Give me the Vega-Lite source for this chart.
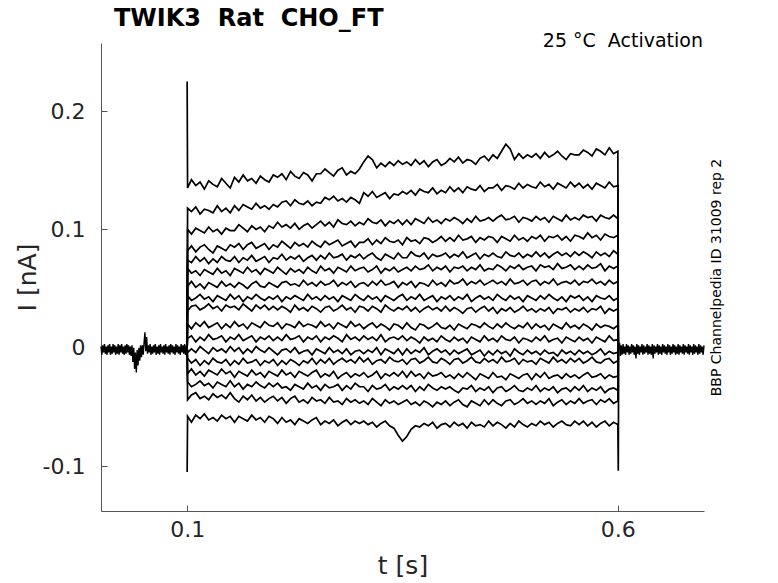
{
"$schema":"https://vega.github.io/schema/vega-lite/v6.json",
"width":603,"height":468,
"autosize":{"type":"none"},
"padding":{"left":101,"top":43,"right":74,"bottom":72},
"background":"white",
"config":{"view":{"stroke":null},"font":"DejaVu Sans",
 "axisX":{"grid":false,"tickSize":-6,"labelPadding":14,"labelFlush":false,"labelFontSize":22,"titleFontSize":25,"titleFontWeight":"normal","titlePadding":13,"labelColor":"#262626","titleColor":"#262626","domainColor":"#555555","tickColor":"#555555","labelFont":"DejaVu Sans","titleFont":"DejaVu Sans"}},
"title":{"text":"TWIK3\u00a0 Rat\u00a0 CHO_FT","anchor":"start","frame":"group","dx":13,"dy":9,"offset":10,"fontSize":24,"fontWeight":"bold","font":"DejaVu Sans","color":"black"},
"datasets":{
"base":[
{"t":0,"i":0.001,"g":1},{"t":0.001,"i":-0.006,"g":1},{"t":0.002,"i":0.002,"g":1},{"t":0.003,"i":-0.004,"g":1},{"t":0.004,"i":0.003,"g":1},{"t":0.005,"i":-0.005,"g":1},{"t":0.006,"i":0.001,"g":1},{"t":0.007,"i":-0.006,"g":1},{"t":0.008,"i":0.002,"g":1},{"t":0.009,"i":-0.004,"g":1},{"t":0.01,"i":0.003,"g":1},{"t":0.011,"i":-0.006,"g":1},{"t":0.012,"i":0.001,"g":1},{"t":0.013,"i":-0.005,"g":1},{"t":0.014,"i":0.003,"g":1},{"t":0.015,"i":-0.004,"g":1},{"t":0.016,"i":0.002,"g":1},{"t":0.017,"i":-0.006,"g":1},{"t":0.018,"i":0.001,"g":1},{"t":0.019,"i":-0.005,"g":1},{"t":0.02,"i":0.003,"g":1},{"t":0.021,"i":-0.006,"g":1},{"t":0.022,"i":0.002,"g":1},{"t":0.023,"i":-0.004,"g":1},{"t":0.024,"i":0.003,"g":1},{"t":0.025,"i":-0.005,"g":1},{"t":0.026,"i":0.001,"g":1},{"t":0.027,"i":-0.006,"g":1},{"t":0.028,"i":0.002,"g":1},{"t":0.029,"i":-0.005,"g":1},{"t":0.03,"i":0.003,"g":1},{"t":0.031,"i":-0.004,"g":1},{"t":0.032,"i":0.002,"g":1},{"t":0.033,"i":-0.006,"g":1},{"t":0.034,"i":0.001,"g":1},{"t":0.035,"i":-0.007,"g":1},{"t":0.036,"i":0.002,"g":1},{"t":0.037,"i":-0.012,"g":1},{"t":0.038,"i":0,"g":1},{"t":0.039,"i":-0.018,"g":1},{"t":0.04,"i":-0.004,"g":1},{"t":0.041,"i":-0.021,"g":1},{"t":0.042,"i":-0.002,"g":1},{"t":0.043,"i":-0.015,"g":1},{"t":0.044,"i":0,"g":1},{"t":0.045,"i":-0.011,"g":1},{"t":0.046,"i":0.002,"g":1},{"t":0.047,"i":-0.008,"g":1},{"t":0.048,"i":0.002,"g":1},{"t":0.049,"i":-0.006,"g":1},{"t":0.05,"i":0.004,"g":1},{"t":0.051,"i":0.013,"g":1},{"t":0.052,"i":-0.003,"g":1},{"t":0.053,"i":0.009,"g":1},{"t":0.054,"i":-0.005,"g":1},{"t":0.055,"i":0.002,"g":1},{"t":0.056,"i":-0.004,"g":1},{"t":0.057,"i":0.003,"g":1},{"t":0.058,"i":-0.006,"g":1},{"t":0.059,"i":0.001,"g":1},{"t":0.06,"i":-0.005,"g":1},{"t":0.061,"i":0.002,"g":1},{"t":0.062,"i":-0.004,"g":1},{"t":0.063,"i":0.003,"g":1},{"t":0.064,"i":-0.006,"g":1},{"t":0.065,"i":0.001,"g":1},{"t":0.066,"i":-0.005,"g":1},{"t":0.067,"i":0.002,"g":1},{"t":0.068,"i":-0.006,"g":1},{"t":0.069,"i":0.003,"g":1},{"t":0.07,"i":-0.004,"g":1},{"t":0.071,"i":0.001,"g":1},{"t":0.072,"i":-0.005,"g":1},{"t":0.073,"i":0.002,"g":1},{"t":0.074,"i":-0.006,"g":1},{"t":0.075,"i":0.003,"g":1},{"t":0.076,"i":-0.004,"g":1},{"t":0.077,"i":0.001,"g":1},{"t":0.078,"i":-0.005,"g":1},{"t":0.079,"i":0.002,"g":1},{"t":0.08,"i":-0.006,"g":1},{"t":0.081,"i":0.003,"g":1},{"t":0.082,"i":-0.004,"g":1},{"t":0.083,"i":0.002,"g":1},{"t":0.084,"i":-0.005,"g":1},{"t":0.085,"i":0.001,"g":1},{"t":0.086,"i":-0.006,"g":1},{"t":0.087,"i":0.003,"g":1},{"t":0.088,"i":-0.004,"g":1},{"t":0.089,"i":0.002,"g":1},{"t":0.09,"i":-0.005,"g":1},{"t":0.091,"i":0.001,"g":1},{"t":0.092,"i":-0.006,"g":1},{"t":0.093,"i":0.003,"g":1},{"t":0.094,"i":-0.004,"g":1},{"t":0.095,"i":0.002,"g":1},{"t":0.096,"i":-0.005,"g":1},{"t":0.097,"i":0.003,"g":1},{"t":0.098,"i":-0.006,"g":1},{"t":0.099,"i":0.001,"g":1},{"t":0.1,"i":0,"g":1},
{"t":0.601,"i":0,"g":2},{"t":0.602,"i":0.004,"g":2},{"t":0.603,"i":-0.007,"g":2},{"t":0.604,"i":0.002,"g":2},{"t":0.605,"i":-0.006,"g":2},{"t":0.606,"i":0.003,"g":2},{"t":0.607,"i":-0.005,"g":2},{"t":0.608,"i":0.001,"g":2},{"t":0.609,"i":-0.006,"g":2},{"t":0.61,"i":0.003,"g":2},{"t":0.611,"i":-0.004,"g":2},{"t":0.612,"i":0.002,"g":2},{"t":0.613,"i":-0.006,"g":2},{"t":0.614,"i":0.001,"g":2},{"t":0.615,"i":-0.005,"g":2},{"t":0.616,"i":0.003,"g":2},{"t":0.617,"i":-0.004,"g":2},{"t":0.618,"i":0.002,"g":2},{"t":0.619,"i":-0.006,"g":2},{"t":0.62,"i":0.001,"g":2},{"t":0.621,"i":-0.009,"g":2},{"t":0.622,"i":0.003,"g":2},{"t":0.623,"i":-0.005,"g":2},{"t":0.624,"i":0.002,"g":2},{"t":0.625,"i":-0.006,"g":2},{"t":0.626,"i":0.001,"g":2},{"t":0.627,"i":-0.004,"g":2},{"t":0.628,"i":0.003,"g":2},{"t":0.629,"i":-0.006,"g":2},{"t":0.63,"i":0.002,"g":2},{"t":0.631,"i":-0.005,"g":2},{"t":0.632,"i":0.001,"g":2},{"t":0.633,"i":-0.004,"g":2},{"t":0.634,"i":0.003,"g":2},{"t":0.635,"i":-0.006,"g":2},{"t":0.636,"i":0.002,"g":2},{"t":0.637,"i":-0.005,"g":2},{"t":0.638,"i":0.001,"g":2},{"t":0.639,"i":-0.006,"g":2},{"t":0.64,"i":0.003,"g":2},{"t":0.641,"i":-0.009,"g":2},{"t":0.642,"i":0.002,"g":2},{"t":0.643,"i":-0.005,"g":2},{"t":0.644,"i":0.001,"g":2},{"t":0.645,"i":-0.004,"g":2},{"t":0.646,"i":0.003,"g":2},{"t":0.647,"i":-0.006,"g":2},{"t":0.648,"i":0.002,"g":2},{"t":0.649,"i":-0.005,"g":2},{"t":0.65,"i":0.001,"g":2},{"t":0.651,"i":-0.006,"g":2},{"t":0.652,"i":0.003,"g":2},{"t":0.653,"i":-0.004,"g":2},{"t":0.654,"i":0.002,"g":2},{"t":0.655,"i":-0.005,"g":2},{"t":0.656,"i":0.001,"g":2},{"t":0.657,"i":-0.006,"g":2},{"t":0.658,"i":0.003,"g":2},{"t":0.659,"i":-0.004,"g":2},{"t":0.66,"i":0.002,"g":2},{"t":0.661,"i":-0.006,"g":2},{"t":0.662,"i":0.001,"g":2},{"t":0.663,"i":-0.005,"g":2},{"t":0.664,"i":0.003,"g":2},{"t":0.665,"i":-0.004,"g":2},{"t":0.666,"i":0.002,"g":2},{"t":0.667,"i":-0.006,"g":2},{"t":0.668,"i":0.001,"g":2},{"t":0.669,"i":-0.005,"g":2},{"t":0.67,"i":0.003,"g":2},{"t":0.671,"i":-0.006,"g":2},{"t":0.672,"i":0.002,"g":2},{"t":0.673,"i":-0.004,"g":2},{"t":0.674,"i":0.001,"g":2},{"t":0.675,"i":-0.005,"g":2},{"t":0.676,"i":0.003,"g":2},{"t":0.677,"i":-0.006,"g":2},{"t":0.678,"i":0.002,"g":2},{"t":0.679,"i":-0.004,"g":2},{"t":0.68,"i":0.001,"g":2},{"t":0.681,"i":-0.005,"g":2},{"t":0.682,"i":0.003,"g":2},{"t":0.683,"i":-0.006,"g":2},{"t":0.684,"i":0.002,"g":2},{"t":0.685,"i":-0.004,"g":2},{"t":0.686,"i":0.001,"g":2},{"t":0.687,"i":-0.006,"g":2},{"t":0.688,"i":0.003,"g":2},{"t":0.689,"i":-0.005,"g":2},{"t":0.69,"i":0.002,"g":2},{"t":0.691,"i":-0.004,"g":2},{"t":0.692,"i":0.001,"g":2},{"t":0.693,"i":-0.006,"g":2},{"t":0.694,"i":0.003,"g":2},{"t":0.695,"i":-0.005,"g":2},{"t":0.696,"i":0.002,"g":2},{"t":0.697,"i":-0.004,"g":2},{"t":0.698,"i":0.001,"g":2},{"t":0.699,"i":-0.006,"g":2},{"t":0.7,"i":0.002,"g":2}
],
"traces":[
{"t":0.1,"a":0.225,"b":0,"c":0,"d":0,"e":0,"f":0,"g":0,"h":0,"i":0,"j":0,"k":0,"l":0,"m":0,"n":0,"o":0,"p":0,"q":-0.105},
{"t":0.1005,"a":0.135,"b":0.118,"c":0.1,"d":0.082,"e":0.074,"f":0.067,"g":0.052,"h":0.044,"i":0.031,"j":0.02,"k":0.008,"l":-0.004,"m":-0.009,"n":-0.022,"o":-0.029,"p":-0.044,"q":-0.058},
{"t":0.105,"a":0.142,"b":0.115,"c":0.096,"d":0.086,"e":0.072,"f":0.063,"g":0.056,"h":0.04,"i":0.035,"j":0.016,"k":0.01,"l":-0.001,"m":-0.013,"n":-0.018,"o":-0.033,"p":-0.04,"q":-0.063},
{"t":0.11,"a":0.137,"b":0.119,"c":0.101,"d":0.081,"e":0.077,"f":0.065,"g":0.051,"h":0.042,"i":0.036,"j":0.021,"k":0.005,"l":-0.004,"m":-0.01,"n":-0.023,"o":-0.031,"p":-0.038,"q":-0.057},
{"t":0.115,"a":0.14,"b":0.113,"c":0.099,"d":0.085,"e":0.073,"f":0.061,"g":0.054,"h":0.045,"i":0.032,"j":0.018,"k":0.009,"l":0.001,"m":-0.015,"n":-0.02,"o":-0.028,"p":-0.043,"q":-0.06},
{"t":0.12,"a":0.134,"b":0.117,"c":0.097,"d":0.087,"e":0.076,"f":0.066,"g":0.05,"h":0.041,"i":0.034,"j":0.022,"k":0.006,"l":-0.002,"m":-0.011,"n":-0.024,"o":-0.032,"p":-0.041,"q":-0.056},
{"t":0.125,"a":0.141,"b":0.116,"c":0.102,"d":0.083,"e":0.071,"f":0.064,"g":0.055,"h":0.043,"i":0.037,"j":0.017,"k":0.011,"l":-0.005,"m":-0.014,"n":-0.019,"o":-0.03,"p":-0.044,"q":-0.061},
{"t":0.13,"a":0.138,"b":0.114,"c":0.098,"d":0.08,"e":0.075,"f":0.062,"g":0.053,"h":0.039,"i":0.033,"j":0.019,"k":0.007,"l":0,"m":-0.009,"n":-0.021,"o":-0.034,"p":-0.039,"q":-0.059},
{"t":0.135,"a":0.136,"b":0.12,"c":0.1,"d":0.086,"e":0.072,"f":0.067,"g":0.051,"h":0.044,"i":0.035,"j":0.021,"k":0.008,"l":-0.003,"m":-0.012,"n":-0.023,"o":-0.029,"p":-0.042,"q":-0.062},
{"t":0.14,"a":0.143,"b":0.115,"c":0.096,"d":0.084,"e":0.077,"f":0.063,"g":0.056,"h":0.042,"i":0.031,"j":0.016,"k":0.01,"l":-0.001,"m":-0.013,"n":-0.018,"o":-0.031,"p":-0.04,"q":-0.057},
{"t":0.145,"a":0.139,"b":0.118,"c":0.101,"d":0.082,"e":0.074,"f":0.065,"g":0.052,"h":0.04,"i":0.036,"j":0.02,"k":0.005,"l":-0.004,"m":-0.01,"n":-0.022,"o":-0.033,"p":-0.043,"q":-0.06},
{"t":0.15,"a":0.135,"b":0.114,"c":0.099,"d":0.087,"e":0.073,"f":0.061,"g":0.054,"h":0.045,"i":0.034,"j":0.017,"k":0.009,"l":0.001,"m":-0.015,"n":-0.02,"o":-0.028,"p":-0.038,"q":-0.058},
{"t":0.155,"a":0.144,"b":0.12,"c":0.099,"d":0.085,"e":0.077,"f":0.067,"g":0.051,"h":0.041,"i":0.035,"j":0.022,"k":0.007,"l":-0.003,"m":-0.011,"n":-0.025,"o":-0.033,"p":-0.043,"q":-0.063},
{"t":0.16,"a":0.14,"b":0.116,"c":0.104,"d":0.088,"e":0.072,"f":0.065,"g":0.055,"h":0.044,"i":0.032,"j":0.018,"k":0.011,"l":0,"m":-0.014,"n":-0.02,"o":-0.03,"p":-0.046,"q":-0.058},
{"t":0.165,"a":0.146,"b":0.121,"c":0.101,"d":0.083,"e":0.076,"f":0.063,"g":0.053,"h":0.039,"i":0.037,"j":0.02,"k":0.006,"l":-0.005,"m":-0.009,"n":-0.022,"o":-0.035,"p":-0.041,"q":-0.06},
{"t":0.17,"a":0.141,"b":0.119,"c":0.098,"d":0.087,"e":0.074,"f":0.068,"g":0.05,"h":0.043,"i":0.034,"j":0.016,"k":0.008,"l":-0.001,"m":-0.013,"n":-0.024,"o":-0.031,"p":-0.044,"q":-0.062},
{"t":0.175,"a":0.143,"b":0.117,"c":0.103,"d":0.089,"e":0.078,"f":0.064,"g":0.054,"h":0.041,"i":0.031,"j":0.021,"k":0.01,"l":-0.004,"m":-0.012,"n":-0.019,"o":-0.033,"p":-0.04,"q":-0.057},
{"t":0.18,"a":0.139,"b":0.122,"c":0.1,"d":0.084,"e":0.073,"f":0.066,"g":0.056,"h":0.045,"i":0.036,"j":0.019,"k":0.005,"l":0.001,"m":-0.01,"n":-0.023,"o":-0.029,"p":-0.045,"q":-0.061},
{"t":0.185,"a":0.145,"b":0.118,"c":0.102,"d":0.086,"e":0.075,"f":0.062,"g":0.052,"h":0.042,"i":0.033,"j":0.017,"k":0.009,"l":-0.002,"m":-0.015,"n":-0.021,"o":-0.032,"p":-0.042,"q":-0.059},
{"t":0.19,"a":0.142,"b":0.12,"c":0.098,"d":0.088,"e":0.077,"f":0.067,"g":0.051,"h":0.04,"i":0.036,"j":0.022,"k":0.007,"l":-0.004,"m":-0.011,"n":-0.025,"o":-0.034,"p":-0.046,"q":-0.063},
{"t":0.195,"a":0.14,"b":0.117,"c":0.103,"d":0.083,"e":0.072,"f":0.065,"g":0.055,"h":0.043,"i":0.032,"j":0.019,"k":0.01,"l":0,"m":-0.013,"n":-0.02,"o":-0.03,"p":-0.043,"q":-0.058},
{"t":0.2,"a":0.146,"b":0.121,"c":0.101,"d":0.087,"e":0.076,"f":0.063,"g":0.053,"h":0.041,"i":0.035,"j":0.018,"k":0.006,"l":-0.003,"m":-0.01,"n":-0.022,"o":-0.033,"p":-0.041,"q":-0.06},
{"t":0.205,"a":0.144,"b":0.119,"c":0.106,"d":0.085,"e":0.075,"f":0.068,"g":0.051,"h":0.044,"i":0.032,"j":0.021,"k":0.009,"l":-0.006,"m":-0.015,"n":-0.024,"o":-0.03,"p":-0.045,"q":-0.064},
{"t":0.21,"a":0.147,"b":0.123,"c":0.102,"d":0.09,"e":0.079,"f":0.065,"g":0.055,"h":0.039,"i":0.035,"j":0.016,"k":0.006,"l":-0.002,"m":-0.011,"n":-0.019,"o":-0.034,"p":-0.042,"q":-0.059},
{"t":0.215,"a":0.142,"b":0.124,"c":0.104,"d":0.087,"e":0.074,"f":0.062,"g":0.056,"h":0.043,"i":0.033,"j":0.02,"k":0.011,"l":-0.001,"m":-0.014,"n":-0.023,"o":-0.033,"p":-0.047,"q":-0.063},
{"t":0.22,"a":0.149,"b":0.12,"c":0.101,"d":0.084,"e":0.077,"f":0.067,"g":0.053,"h":0.041,"i":0.03,"j":0.019,"k":0.007,"l":-0.004,"m":-0.01,"n":-0.021,"o":-0.036,"p":-0.043,"q":-0.061},
{"t":0.225,"a":0.145,"b":0.125,"c":0.105,"d":0.089,"e":0.075,"f":0.064,"g":0.054,"h":0.044,"i":0.036,"j":0.017,"k":0.008,"l":0,"m":-0.012,"n":-0.025,"o":-0.031,"p":-0.041,"q":-0.065},
{"t":0.23,"a":0.143,"b":0.122,"c":0.1,"d":0.086,"e":0.078,"f":0.066,"g":0.052,"h":0.042,"i":0.032,"j":0.022,"k":0.01,"l":-0.005,"m":-0.015,"n":-0.02,"o":-0.033,"p":-0.046,"q":-0.06},
{"t":0.235,"a":0.148,"b":0.121,"c":0.103,"d":0.088,"e":0.073,"f":0.063,"g":0.057,"h":0.04,"i":0.034,"j":0.018,"k":0.005,"l":-0.003,"m":-0.011,"n":-0.022,"o":-0.035,"p":-0.044,"q":-0.062},
{"t":0.24,"a":0.146,"b":0.124,"c":0.105,"d":0.085,"e":0.076,"f":0.068,"g":0.053,"h":0.045,"i":0.031,"j":0.02,"k":0.009,"l":-0.002,"m":-0.013,"n":-0.024,"o":-0.03,"p":-0.047,"q":-0.064},
{"t":0.245,"a":0.141,"b":0.12,"c":0.101,"d":0.09,"e":0.078,"f":0.065,"g":0.055,"h":0.041,"i":0.035,"j":0.019,"k":0.007,"l":-0.006,"m":-0.009,"n":-0.021,"o":-0.034,"p":-0.042,"q":-0.061},
{"t":0.25,"a":0.147,"b":0.123,"c":0.104,"d":0.087,"e":0.074,"f":0.063,"g":0.052,"h":0.043,"i":0.033,"j":0.017,"k":0.01,"l":-0.001,"m":-0.014,"n":-0.019,"o":-0.032,"p":-0.045,"q":-0.059},
{"t":0.255,"a":0.147,"b":0.122,"c":0.107,"d":0.085,"e":0.078,"f":0.069,"g":0.056,"h":0.04,"i":0.03,"j":0.022,"k":0.005,"l":-0.003,"m":-0.01,"n":-0.025,"o":-0.036,"p":-0.044,"q":-0.065},
{"t":0.26,"a":0.151,"b":0.127,"c":0.103,"d":0.09,"e":0.075,"f":0.065,"g":0.053,"h":0.044,"i":0.034,"j":0.018,"k":0.009,"l":-0.005,"m":-0.013,"n":-0.022,"o":-0.031,"p":-0.047,"q":-0.062},
{"t":0.265,"a":0.148,"b":0.125,"c":0.106,"d":0.087,"e":0.08,"f":0.067,"g":0.054,"h":0.041,"i":0.035,"j":0.02,"k":0.007,"l":0,"m":-0.009,"n":-0.024,"o":-0.034,"p":-0.042,"q":-0.064},
{"t":0.27,"a":0.145,"b":0.128,"c":0.102,"d":0.089,"e":0.076,"f":0.063,"g":0.057,"h":0.043,"i":0.031,"j":0.016,"k":0.01,"l":-0.004,"m":-0.014,"n":-0.02,"o":-0.033,"p":-0.046,"q":-0.061},
{"t":0.275,"a":0.15,"b":0.124,"c":0.108,"d":0.091,"e":0.077,"f":0.068,"g":0.052,"h":0.039,"i":0.033,"j":0.021,"k":0.008,"l":-0.002,"m":-0.011,"n":-0.026,"o":-0.031,"p":-0.045,"q":-0.066},
{"t":0.28,"a":0.152,"b":0.126,"c":0.105,"d":0.086,"e":0.079,"f":0.066,"g":0.055,"h":0.044,"i":0.036,"j":0.019,"k":0.005,"l":-0.005,"m":-0.009,"n":-0.023,"o":-0.036,"p":-0.048,"q":-0.063},
{"t":0.285,"a":0.146,"b":0.123,"c":0.104,"d":0.088,"e":0.074,"f":0.064,"g":0.053,"h":0.042,"i":0.032,"j":0.017,"k":0.011,"l":-0.001,"m":-0.012,"n":-0.021,"o":-0.032,"p":-0.043,"q":-0.061},
{"t":0.29,"a":0.149,"b":0.127,"c":0.107,"d":0.09,"e":0.078,"f":0.069,"g":0.056,"h":0.04,"i":0.034,"j":0.022,"k":0.007,"l":-0.006,"m":-0.01,"n":-0.025,"o":-0.035,"p":-0.046,"q":-0.065},
{"t":0.295,"a":0.147,"b":0.125,"c":0.103,"d":0.085,"e":0.076,"f":0.065,"g":0.051,"h":0.045,"i":0.03,"j":0.018,"k":0.009,"l":-0.003,"m":-0.013,"n":-0.022,"o":-0.03,"p":-0.044,"q":-0.062},
{"t":0.3,"a":0.151,"b":0.122,"c":0.106,"d":0.089,"e":0.079,"f":0.067,"g":0.054,"h":0.042,"i":0.035,"j":0.02,"k":0.006,"l":-0.002,"m":-0.008,"n":-0.024,"o":-0.033,"p":-0.047,"q":-0.064},
{"t":0.305,"a":0.157,"b":0.131,"c":0.104,"d":0.089,"e":0.075,"f":0.068,"g":0.055,"h":0.04,"i":0.034,"j":0.016,"k":0.01,"l":-0.005,"m":-0.012,"n":-0.021,"o":-0.033,"p":-0.045,"q":-0.062},
{"t":0.31,"a":0.162,"b":0.128,"c":0.109,"d":0.092,"e":0.078,"f":0.064,"g":0.052,"h":0.044,"i":0.031,"j":0.019,"k":0.007,"l":-0.002,"m":-0.009,"n":-0.025,"o":-0.037,"p":-0.048,"q":-0.065},
{"t":0.315,"a":0.159,"b":0.132,"c":0.106,"d":0.087,"e":0.08,"f":0.066,"g":0.056,"h":0.041,"i":0.035,"j":0.021,"k":0.009,"l":-0.004,"m":-0.014,"n":-0.023,"o":-0.032,"p":-0.043,"q":-0.063},
{"t":0.32,"a":0.152,"b":0.127,"c":0.105,"d":0.091,"e":0.076,"f":0.069,"g":0.053,"h":0.043,"i":0.033,"j":0.017,"k":0.006,"l":0,"m":-0.011,"n":-0.02,"o":-0.035,"p":-0.046,"q":-0.067},
{"t":0.325,"a":0.156,"b":0.129,"c":0.108,"d":0.088,"e":0.074,"f":0.063,"g":0.057,"h":0.039,"i":0.03,"j":0.02,"k":0.011,"l":-0.006,"m":-0.01,"n":-0.026,"o":-0.034,"p":-0.049,"q":-0.064},
{"t":0.33,"a":0.153,"b":0.131,"c":0.103,"d":0.093,"e":0.079,"f":0.067,"g":0.053,"h":0.044,"i":0.036,"j":0.018,"k":0.005,"l":-0.001,"m":-0.013,"n":-0.022,"o":-0.031,"p":-0.044,"q":-0.062},
{"t":0.335,"a":0.157,"b":0.126,"c":0.107,"d":0.09,"e":0.077,"f":0.065,"g":0.054,"h":0.042,"i":0.033,"j":0.015,"k":0.008,"l":-0.003,"m":-0.008,"n":-0.024,"o":-0.036,"p":-0.047,"q":-0.066},
{"t":0.34,"a":0.154,"b":0.13,"c":0.105,"d":0.089,"e":0.075,"f":0.068,"g":0.056,"h":0.04,"i":0.031,"j":0.02,"k":0.009,"l":-0.005,"m":-0.011,"n":-0.021,"o":-0.033,"p":-0.045,"q":-0.068},
{"t":0.345,"a":0.158,"b":0.129,"c":0.108,"d":0.091,"e":0.08,"f":0.064,"g":0.051,"h":0.043,"i":0.034,"j":0.019,"k":0.007,"l":-0.001,"m":-0.012,"n":-0.024,"o":-0.035,"p":-0.048,"q":-0.074},
{"t":0.35,"a":0.155,"b":0.132,"c":0.104,"d":0.087,"e":0.076,"f":0.066,"g":0.055,"h":0.045,"i":0.032,"j":0.016,"k":0.01,"l":-0.006,"m":-0.01,"n":-0.02,"o":-0.032,"p":-0.046,"q":-0.079},
{"t":0.355,"a":0.157,"b":0.13,"c":0.108,"d":0.093,"e":0.076,"f":0.068,"g":0.053,"h":0.04,"i":0.035,"j":0.021,"k":0.006,"l":-0.001,"m":-0.014,"n":-0.025,"o":-0.035,"p":-0.044,"q":-0.075},
{"t":0.36,"a":0.154,"b":0.133,"c":0.104,"d":0.09,"e":0.081,"f":0.065,"g":0.056,"h":0.043,"i":0.031,"j":0.017,"k":0.009,"l":-0.005,"m":-0.01,"n":-0.02,"o":-0.032,"p":-0.048,"q":-0.069},
{"t":0.365,"a":0.159,"b":0.129,"c":0.109,"d":0.091,"e":0.078,"f":0.069,"g":0.051,"h":0.041,"i":0.034,"j":0.015,"k":0.007,"l":-0.002,"m":-0.009,"n":-0.024,"o":-0.037,"p":-0.046,"q":-0.066},
{"t":0.37,"a":0.155,"b":0.134,"c":0.107,"d":0.088,"e":0.077,"f":0.066,"g":0.055,"h":0.045,"i":0.03,"j":0.02,"k":0.004,"l":-0.004,"m":-0.013,"n":-0.022,"o":-0.033,"p":-0.049,"q":-0.067},
{"t":0.375,"a":0.158,"b":0.132,"c":0.105,"d":0.093,"e":0.08,"f":0.067,"g":0.054,"h":0.04,"i":0.033,"j":0.019,"k":0.009,"l":0,"m":-0.011,"n":-0.026,"o":-0.036,"p":-0.045,"q":-0.064},
{"t":0.38,"a":0.153,"b":0.131,"c":0.11,"d":0.092,"e":0.075,"f":0.07,"g":0.052,"h":0.042,"i":0.035,"j":0.016,"k":0.006,"l":-0.006,"m":-0.008,"n":-0.021,"o":-0.031,"p":-0.047,"q":-0.066},
{"t":0.385,"a":0.157,"b":0.135,"c":0.106,"d":0.089,"e":0.079,"f":0.065,"g":0.057,"h":0.044,"i":0.032,"j":0.018,"k":0.008,"l":-0.003,"m":-0.012,"n":-0.024,"o":-0.034,"p":-0.05,"q":-0.063},
{"t":0.39,"a":0.159,"b":0.13,"c":0.108,"d":0.091,"e":0.077,"f":0.068,"g":0.053,"h":0.039,"i":0.034,"j":0.021,"k":0.005,"l":-0.001,"m":-0.013,"n":-0.023,"o":-0.036,"p":-0.046,"q":-0.068},
{"t":0.395,"a":0.154,"b":0.133,"c":0.105,"d":0.094,"e":0.078,"f":0.066,"g":0.055,"h":0.043,"i":0.031,"j":0.017,"k":0.01,"l":-0.004,"m":-0.009,"n":-0.021,"o":-0.033,"p":-0.048,"q":-0.065},
{"t":0.4,"a":0.156,"b":0.131,"c":0.109,"d":0.09,"e":0.08,"f":0.069,"g":0.052,"h":0.041,"i":0.035,"j":0.016,"k":0.007,"l":-0.002,"m":-0.011,"n":-0.025,"o":-0.035,"p":-0.045,"q":-0.064},
{"t":0.405,"a":0.16,"b":0.136,"c":0.107,"d":0.093,"e":0.076,"f":0.064,"g":0.057,"h":0.044,"i":0.031,"j":0.019,"k":0.005,"l":-0.006,"m":-0.014,"n":-0.023,"o":-0.033,"p":-0.049,"q":-0.067},
{"t":0.41,"a":0.157,"b":0.132,"c":0.11,"d":0.09,"e":0.079,"f":0.068,"g":0.054,"h":0.04,"i":0.034,"j":0.015,"k":0.009,"l":-0.002,"m":-0.01,"n":-0.026,"o":-0.036,"p":-0.046,"q":-0.063},
{"t":0.415,"a":0.161,"b":0.135,"c":0.108,"d":0.095,"e":0.077,"f":0.067,"g":0.055,"h":0.043,"i":0.032,"j":0.02,"k":0.006,"l":-0.005,"m":-0.009,"n":-0.022,"o":-0.038,"p":-0.044,"q":-0.066},
{"t":0.42,"a":0.156,"b":0.131,"c":0.105,"d":0.091,"e":0.081,"f":0.069,"g":0.058,"h":0.041,"i":0.029,"j":0.018,"k":0.008,"l":-0.003,"m":-0.013,"n":-0.025,"o":-0.034,"p":-0.048,"q":-0.064},
{"t":0.425,"a":0.159,"b":0.136,"c":0.109,"d":0.092,"e":0.076,"f":0.065,"g":0.053,"h":0.045,"i":0.033,"j":0.016,"k":0.004,"l":-0.001,"m":-0.011,"n":-0.021,"o":-0.035,"p":-0.05,"q":-0.068},
{"t":0.43,"a":0.158,"b":0.134,"c":0.106,"d":0.094,"e":0.078,"f":0.068,"g":0.056,"h":0.039,"i":0.034,"j":0.02,"k":0.009,"l":-0.006,"m":-0.008,"n":-0.024,"o":-0.032,"p":-0.045,"q":-0.063},
{"t":0.435,"a":0.155,"b":0.133,"c":0.111,"d":0.089,"e":0.08,"f":0.066,"g":0.054,"h":0.042,"i":0.03,"j":0.019,"k":0.007,"l":-0.004,"m":-0.012,"n":-0.027,"o":-0.037,"p":-0.047,"q":-0.066},
{"t":0.44,"a":0.16,"b":0.137,"c":0.107,"d":0.093,"e":0.075,"f":0.07,"g":0.057,"h":0.044,"i":0.033,"j":0.017,"k":0.005,"l":-0.002,"m":-0.013,"n":-0.022,"o":-0.034,"p":-0.049,"q":-0.065},
{"t":0.445,"a":0.162,"b":0.132,"c":0.108,"d":0.091,"e":0.079,"f":0.065,"g":0.053,"h":0.041,"i":0.035,"j":0.021,"k":0.01,"l":-0.007,"m":-0.009,"n":-0.024,"o":-0.036,"p":-0.044,"q":-0.067},
{"t":0.45,"a":0.158,"b":0.135,"c":0.11,"d":0.094,"e":0.077,"f":0.067,"g":0.055,"h":0.043,"i":0.031,"j":0.018,"k":0.006,"l":-0.003,"m":-0.012,"n":-0.026,"o":-0.033,"p":-0.048,"q":-0.062},
{"t":0.455,"a":0.163,"b":0.135,"c":0.107,"d":0.093,"e":0.08,"f":0.066,"g":0.057,"h":0.04,"i":0.034,"j":0.016,"k":0.008,"l":-0.006,"m":-0.01,"n":-0.021,"o":-0.038,"p":-0.044,"q":-0.066},
{"t":0.46,"a":0.16,"b":0.138,"c":0.11,"d":0.089,"e":0.077,"f":0.07,"g":0.054,"h":0.045,"i":0.029,"j":0.02,"k":0.005,"l":-0.002,"m":-0.013,"n":-0.025,"o":-0.034,"p":-0.047,"q":-0.063},
{"t":0.465,"a":0.166,"b":0.133,"c":0.112,"d":0.094,"e":0.076,"f":0.068,"g":0.056,"h":0.042,"i":0.033,"j":0.017,"k":0.01,"l":-0.005,"m":-0.008,"n":-0.024,"o":-0.033,"p":-0.049,"q":-0.065},
{"t":0.47,"a":0.172,"b":0.137,"c":0.108,"d":0.092,"e":0.081,"f":0.065,"g":0.053,"h":0.04,"i":0.031,"j":0.021,"k":0.007,"l":-0.003,"m":-0.012,"n":-0.027,"o":-0.037,"p":-0.045,"q":-0.068},
{"t":0.475,"a":0.168,"b":0.136,"c":0.109,"d":0.09,"e":0.078,"f":0.069,"g":0.058,"h":0.044,"i":0.034,"j":0.018,"k":0.006,"l":-0.007,"m":-0.011,"n":-0.022,"o":-0.035,"p":-0.044,"q":-0.064},
{"t":0.48,"a":0.159,"b":0.134,"c":0.111,"d":0.095,"e":0.077,"f":0.067,"g":0.054,"h":0.041,"i":0.03,"j":0.016,"k":0.009,"l":-0.001,"m":-0.009,"n":-0.024,"o":-0.032,"p":-0.048,"q":-0.067},
{"t":0.485,"a":0.164,"b":0.139,"c":0.106,"d":0.091,"e":0.08,"f":0.07,"g":0.055,"h":0.043,"i":0.032,"j":0.019,"k":0.004,"l":-0.004,"m":-0.014,"n":-0.026,"o":-0.036,"p":-0.046,"q":-0.062},
{"t":0.49,"a":0.16,"b":0.135,"c":0.11,"d":0.093,"e":0.076,"f":0.066,"g":0.057,"h":0.039,"i":0.035,"j":0.017,"k":0.008,"l":-0.006,"m":-0.01,"n":-0.023,"o":-0.037,"p":-0.043,"q":-0.065},
{"t":0.495,"a":0.163,"b":0.138,"c":0.109,"d":0.09,"e":0.079,"f":0.068,"g":0.053,"h":0.044,"i":0.031,"j":0.021,"k":0.007,"l":-0.002,"m":-0.012,"n":-0.022,"o":-0.034,"p":-0.047,"q":-0.067},
{"t":0.5,"a":0.161,"b":0.136,"c":0.107,"d":0.094,"e":0.077,"f":0.069,"g":0.056,"h":0.042,"i":0.033,"j":0.016,"k":0.005,"l":-0.005,"m":-0.011,"n":-0.027,"o":-0.036,"p":-0.045,"q":-0.064},
{"t":0.505,"a":0.164,"b":0.135,"c":0.111,"d":0.092,"e":0.081,"f":0.065,"g":0.057,"h":0.04,"i":0.03,"j":0.02,"k":0.009,"l":-0.003,"m":-0.014,"n":-0.022,"o":-0.032,"p":-0.048,"q":-0.066},
{"t":0.51,"a":0.16,"b":0.14,"c":0.108,"d":0.095,"e":0.077,"f":0.07,"g":0.053,"h":0.044,"i":0.033,"j":0.017,"k":0.006,"l":-0.006,"m":-0.009,"n":-0.025,"o":-0.037,"p":-0.045,"q":-0.062},
{"t":0.515,"a":0.165,"b":0.136,"c":0.11,"d":0.09,"e":0.08,"f":0.068,"g":0.056,"h":0.041,"i":0.031,"j":0.019,"k":0.01,"l":-0.002,"m":-0.011,"n":-0.021,"o":-0.034,"p":-0.047,"q":-0.065},
{"t":0.52,"a":0.161,"b":0.138,"c":0.106,"d":0.094,"e":0.076,"f":0.069,"g":0.054,"h":0.045,"i":0.034,"j":0.015,"k":0.005,"l":-0.005,"m":-0.013,"n":-0.026,"o":-0.036,"p":-0.043,"q":-0.063},
{"t":0.525,"a":0.163,"b":0.134,"c":0.111,"d":0.093,"e":0.079,"f":0.066,"g":0.058,"h":0.042,"i":0.029,"j":0.02,"k":0.007,"l":-0.004,"m":-0.008,"n":-0.024,"o":-0.033,"p":-0.049,"q":-0.067},
{"t":0.53,"a":0.166,"b":0.139,"c":0.109,"d":0.095,"e":0.081,"f":0.071,"g":0.053,"h":0.04,"i":0.033,"j":0.018,"k":0.008,"l":-0.007,"m":-0.012,"n":-0.023,"o":-0.038,"p":-0.046,"q":-0.064},
{"t":0.535,"a":0.162,"b":0.137,"c":0.107,"d":0.091,"e":0.078,"f":0.067,"g":0.055,"h":0.043,"i":0.032,"j":0.016,"k":0.004,"l":-0.002,"m":-0.01,"n":-0.026,"o":-0.035,"p":-0.044,"q":-0.062},
{"t":0.54,"a":0.159,"b":0.135,"c":0.112,"d":0.094,"e":0.08,"f":0.068,"g":0.056,"h":0.039,"i":0.034,"j":0.021,"k":0.009,"l":-0.005,"m":-0.013,"n":-0.022,"o":-0.034,"p":-0.048,"q":-0.065},
{"t":0.545,"a":0.164,"b":0.14,"c":0.108,"d":0.09,"e":0.077,"f":0.07,"g":0.054,"h":0.044,"i":0.03,"j":0.017,"k":0.007,"l":-0.003,"m":-0.009,"n":-0.025,"o":-0.037,"p":-0.045,"q":-0.066},
{"t":0.55,"a":0.163,"b":0.136,"c":0.11,"d":0.095,"e":0.081,"f":0.066,"g":0.057,"h":0.042,"i":0.033,"j":0.019,"k":0.005,"l":-0.006,"m":-0.012,"n":-0.023,"o":-0.033,"p":-0.047,"q":-0.062},
{"t":0.555,"a":0.163,"b":0.139,"c":0.108,"d":0.094,"e":0.078,"f":0.069,"g":0.053,"h":0.044,"i":0.031,"j":0.016,"k":0.009,"l":-0.002,"m":-0.009,"n":-0.026,"o":-0.036,"p":-0.043,"q":-0.065},
{"t":0.56,"a":0.167,"b":0.135,"c":0.112,"d":0.092,"e":0.081,"f":0.066,"g":0.056,"h":0.04,"i":0.034,"j":0.02,"k":0.006,"l":-0.005,"m":-0.013,"n":-0.023,"o":-0.032,"p":-0.047,"q":-0.062},
{"t":0.565,"a":0.165,"b":0.138,"c":0.11,"d":0.097,"e":0.079,"f":0.07,"g":0.055,"h":0.043,"i":0.03,"j":0.018,"k":0.008,"l":-0.003,"m":-0.011,"n":-0.021,"o":-0.037,"p":-0.045,"q":-0.066},
{"t":0.57,"a":0.162,"b":0.134,"c":0.111,"d":0.093,"e":0.076,"f":0.067,"g":0.058,"h":0.039,"i":0.033,"j":0.015,"k":0.004,"l":-0.006,"m":-0.008,"n":-0.025,"o":-0.034,"p":-0.044,"q":-0.063},
{"t":0.575,"a":0.168,"b":0.139,"c":0.107,"d":0.095,"e":0.081,"f":0.068,"g":0.054,"h":0.044,"i":0.032,"j":0.02,"k":0.009,"l":-0.004,"m":-0.012,"n":-0.024,"o":-0.036,"p":-0.048,"q":-0.067},
{"t":0.58,"a":0.166,"b":0.137,"c":0.112,"d":0.091,"e":0.078,"f":0.071,"g":0.056,"h":0.042,"i":0.035,"j":0.017,"k":0.007,"l":-0.001,"m":-0.013,"n":-0.022,"o":-0.033,"p":-0.044,"q":-0.064},
{"t":0.585,"a":0.163,"b":0.135,"c":0.11,"d":0.096,"e":0.08,"f":0.065,"g":0.053,"h":0.041,"i":0.029,"j":0.019,"k":0.005,"l":-0.006,"m":-0.01,"n":-0.026,"o":-0.038,"p":-0.046,"q":-0.062},
{"t":0.59,"a":0.169,"b":0.14,"c":0.109,"d":0.094,"e":0.077,"f":0.069,"g":0.057,"h":0.044,"i":0.033,"j":0.018,"k":0.01,"l":-0.003,"m":-0.009,"n":-0.023,"o":-0.035,"p":-0.043,"q":-0.066},
{"t":0.595,"a":0.164,"b":0.136,"c":0.112,"d":0.093,"e":0.082,"f":0.067,"g":0.054,"h":0.04,"i":0.031,"j":0.016,"k":0.006,"l":-0.005,"m":-0.013,"n":-0.025,"o":-0.034,"p":-0.047,"q":-0.063},
{"t":0.6,"a":0.166,"b":0.137,"c":0.109,"d":0.095,"e":0.079,"f":0.069,"g":0.056,"h":0.042,"i":0.033,"j":0.019,"k":0.007,"l":-0.004,"m":-0.011,"n":-0.024,"o":-0.036,"p":-0.045,"q":-0.065},
{"t":0.6005,"a":0,"b":0,"c":0,"d":0,"e":0,"f":0,"g":0,"h":0,"i":0,"j":0,"k":0,"l":0,"m":0,"n":0,"o":0,"p":0,"q":-0.104},
{"t":0.601,"a":0,"b":0,"c":0,"d":0,"e":0,"f":0,"g":0,"h":0,"i":0,"j":0,"k":0,"l":0,"m":0,"n":0,"o":0,"p":0,"q":0}
]
},
"layer":[
{"data":{"name":"base"},
 "mark":{"type":"line","color":"black","strokeWidth":1.4},
 "encoding":{
  "x":{"field":"t","type":"quantitative","title":"t [s]","scale":{"domain":[0,0.7],"nice":false,"zero":false},"axis":{"values":[0.1,0.6]}},
  "y":{"field":"i","type":"quantitative","scale":{"domain":[-0.138,0.2575],"nice":false,"zero":false},
       "axis":{"values":[-0.1,0,0.1,0.2],"format":"~g","title":"I [nA]","grid":false,"tickSize":-6,"labelPadding":22,"labelFlush":false,"labelExpr":"replace(datum.label, '\u2212', '-')","labelFontSize":22,"titleFontSize":25,"titleFontWeight":"normal","titlePadding":2,"labelColor":"#262626","titleColor":"#262626","domainColor":"#555555","tickColor":"#555555","labelFont":"DejaVu Sans","titleFont":"DejaVu Sans"}},
  "detail":{"field":"g","type":"nominal"}
 }},
{"data":{"name":"traces"},
 "transform":[{"fold":["a","b","c","d","e","f","g","h","i","j","k","l","m","n","o","p","q"],"as":["trace","i"]}],
 "mark":{"type":"line","color":"black","strokeWidth":1.7},
 "encoding":{
  "x":{"field":"t","type":"quantitative","title":"t [s]","axis":{"values":[0.1,0.6]}},
  "y":{"field":"i","type":"quantitative","axis":null},
  "detail":{"field":"trace","type":"nominal"}
 }},
{"data":{"values":[{"label":"25 °C\u00a0 Activation"}]},
 "mark":{"type":"text","align":"right","baseline":"alphabetic","fontSize":19,"font":"DejaVu Sans","color":"black","dx":-1},
 "encoding":{
  "x":{"datum":0.7,"type":"quantitative","title":"t [s]","axis":{"values":[0.1,0.6]}},
  "y":{"datum":0.2542,"type":"quantitative","axis":{"orient":"right","title":"BBP Channelpedia ID 31009 rep 2","titleAngle":270,"titleFontSize":14,"titleFontWeight":"normal","titleFont":"DejaVu Sans","titleColor":"black","labels":false,"ticks":false,"domain":false,"grid":false,"titlePadding":19}},
  "text":{"field":"label","type":"nominal"}
 }}
],
"resolve":{"axis":{"y":"independent"}}
}
